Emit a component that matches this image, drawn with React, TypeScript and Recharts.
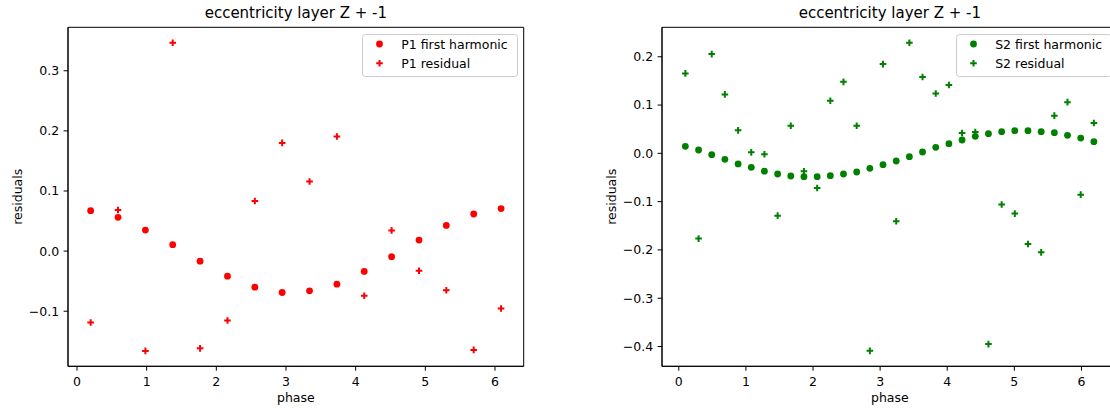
import { ScatterChart, Scatter, XAxis, YAxis, Legend, ReferenceArea } from 'recharts';

const FONT = '"DejaVu Sans", Verdana, sans-serif';
const TITLE = 'eccentricity layer Z + -1';

// P1 (left panel)
const P1_PHASE = [0.196, 0.589, 0.982, 1.374, 1.767, 2.160, 2.553, 2.945, 3.338, 3.731, 4.123, 4.516, 4.909, 5.301, 5.694, 6.087];
const P1_HARMONIC = [0.0673, 0.0562, 0.035, 0.0107, -0.0167, -0.0417, -0.06, -0.0688, -0.066, -0.055, -0.0338, -0.0093, 0.0183, 0.0428, 0.0617, 0.0707];
const P1_RESIDUAL = [-0.1188, 0.0683, -0.166, 0.3467, -0.1617, -0.1155, 0.0833, 0.18, 0.1157, 0.1907, -0.0743, 0.0345, -0.0327, -0.065, -0.1643, -0.0955];

// S2 (right panel)
const S2_PHASE = [0.098, 0.295, 0.491, 0.687, 0.884, 1.080, 1.276, 1.473, 1.669, 1.865, 2.062, 2.258, 2.454, 2.651, 2.847, 3.043,
  3.240, 3.436, 3.632, 3.829, 4.025, 4.221, 4.418, 4.614, 4.811, 5.007, 5.203, 5.400, 5.596, 5.792, 5.989, 6.185];
const S2_HARMONIC = [0.0145, 0.0069, -0.0028, -0.0124, -0.022, -0.029, -0.037, -0.0428, -0.0469, -0.0483, -0.0483, -0.0462, -0.0428, -0.0386, -0.031, -0.0234,
  -0.0159, -0.0069, 0.0028, 0.0124, 0.02, 0.0276, 0.0352, 0.0407, 0.0448, 0.0469, 0.0469, 0.0448, 0.0428, 0.0372, 0.0317, 0.0241];
const S2_RESIDUAL = [0.1655, -0.1766, 0.2055, 0.122, 0.0476, 0.002, -0.002, -0.129, 0.0572, -0.0372, -0.0717, 0.109, 0.148, 0.0572, -0.409, 0.1848,
  -0.1407, 0.229, 0.158, 0.124, 0.1414, 0.042, 0.044, -0.395, -0.106, -0.1248, -0.1876, -0.205, 0.078, 0.106, -0.0855, 0.0628];

const X_TICKS = [0, 1, 2, 3, 4, 5, 6];
const P1_Y_TICKS = [-0.1, 0, 0.1, 0.2, 0.3];
const S2_Y_TICKS = [-0.4, -0.3, -0.2, -0.1, 0, 0.1, 0.2];

const toPoints = (xs: number[], ys: number[]) => xs.map((x, i) => ({ x, y: ys[i] }));
const fmtY = (v: number) => v.toFixed(1).replace('-', '\u2212');

const tickStyle = { fontSize: 12.5, fill: '#000', fontFamily: FONT };
const axisStroke = { stroke: '#000', strokeWidth: 1 };

function dotShape(color: string) {
  return (p: any) => <circle cx={p.cx} cy={p.cy} r={3.4} fill={color} />;
}

function plusShape(color: string) {
  return (p: any) => (
    <path d={`M${p.cx - 3.3},${p.cy}h6.6M${p.cx},${p.cy - 3.3}v6.6`} stroke={color} strokeWidth={2} fill="none" />
  );
}

function LegendBox({ color, first, second }: { color: string; first: string; second: string }) {
  return (
    <svg width={156} height={43} style={{ display: 'block', overflow: 'visible' }}>
      <rect x={0.5} y={0.5} width={155} height={42} rx={3} fill="rgba(255,255,255,0.8)" stroke="#cccccc" />
      <circle cx={17.5} cy={10} r={3.4} fill={color} />
      <path d={`M14.2,29.3h6.6M17.5,26v6.6`} stroke={color} strokeWidth={2} />
      <text x={39.2} y={14.5} fontSize={12.5} fontFamily={FONT} fill="#000">{first}</text>
      <text x={39.2} y={33.8} fontSize={12.5} fontFamily={FONT} fill="#000">{second}</text>
    </svg>
  );
}

type PanelProps = {
  left: number;
  width: number;
  axisWidth: number;
  marginRight: number;
  xDomain: [number, number];
  yDomain: [number, number];
  yTicks: number[];
  phase: number[];
  harmonic: number[];
  residual: number[];
  color: string;
  name: string;
  legendLeft: number;
};

function Panel(p: PanelProps) {
  const harmonicPts = toPoints(p.phase, p.harmonic);
  const residualPts = toPoints(p.phase, p.residual);
  return (
    <div style={{ position: 'absolute', left: p.left, top: 0 }}>
      <ScatterChart width={p.width} height={410} margin={{ top: 27.3, right: p.marginRight, bottom: 3.7, left: 0 }}>
        <XAxis
          type="number"
          dataKey="x"
          domain={p.xDomain}
          ticks={X_TICKS}
          allowDataOverflow
          tick={tickStyle}
          tickSize={4.4}
          tickMargin={6}
          axisLine={axisStroke}
          tickLine={axisStroke}
          height={40}
          label={{ value: 'phase', position: 'insideBottom', offset: 4, style: { fontSize: 12.5, fill: '#000', fontFamily: FONT } }}
        />
        <YAxis
          type="number"
          dataKey="y"
          domain={p.yDomain}
          ticks={p.yTicks}
          allowDataOverflow
          tickFormatter={fmtY}
          tick={tickStyle}
          tickSize={4.4}
          tickMargin={4.4}
          axisLine={axisStroke}
          tickLine={axisStroke}
          width={p.axisWidth}
          label={{ value: 'residuals', angle: -90, position: 'insideLeft', offset: p.axisWidth - 50, style: { fontSize: 12.5, fill: '#000', fontFamily: FONT, textAnchor: 'middle' } }}
        />
        <ReferenceArea
          x1={p.xDomain[0]}
          x2={p.xDomain[1]}
          y1={p.yDomain[0]}
          y2={p.yDomain[1]}
          fill="none"
          fillOpacity={0}
          stroke="#000"
          strokeWidth={1}
          ifOverflow="visible"
        />
        <Legend
          layout="horizontal"
          verticalAlign="middle"
          align="center"
          wrapperStyle={{ left: p.legendLeft, top: 34, width: 156, height: 43 }}
          content={() => <LegendBox color={p.color} first={`${p.name} first harmonic`} second={`${p.name} residual`} />}
        />
        <Scatter name={`${p.name} first harmonic`} data={harmonicPts} fill={p.color} shape={dotShape(p.color)} isAnimationActive={false} />
        <Scatter name={`${p.name} residual`} data={residualPts} fill={p.color} shape={plusShape(p.color)} isAnimationActive={false} />
      </ScatterChart>
    </div>
  );
}

function Title({ center }: { center: number }) {
  return (
    <div style={{ position: 'absolute', left: center - 200, width: 400, top: 6.3, textAlign: 'center', fontSize: 15, lineHeight: '15px', fontFamily: FONT, color: '#000' }}>
      {TITLE}
    </div>
  );
}

export default function App() {
  return (
    <div style={{ position: 'fixed', left: 0, top: 0, width: 1110, height: 410, overflow: 'hidden', background: '#fff', fontFamily: FONT }}>
      <Panel
        left={0}
        width={560}
        axisWidth={68}
        marginRight={36.3}
        xDomain={[-0.129, 6.412]}
        yDomain={[-0.1916, 0.3723]}
        yTicks={P1_Y_TICKS}
        phase={P1_PHASE}
        harmonic={P1_HARMONIC}
        residual={P1_RESIDUAL}
        color="#ff0000"
        name="P1"
        legendLeft={361.7}
      />
      <Panel
        left={560}
        width={570}
        axisWidth={102}
        marginRight={12.3}
        xDomain={[-0.25, 6.54]}
        yDomain={[-0.441, 0.261]}
        yTicks={S2_Y_TICKS}
        phase={S2_PHASE}
        harmonic={S2_HARMONIC}
        residual={S2_RESIDUAL}
        color="#008000"
        name="S2"
        legendLeft={396}
      />
      <Title center={295.85} />
      <Title center={889.85} />
    </div>
  );
}
